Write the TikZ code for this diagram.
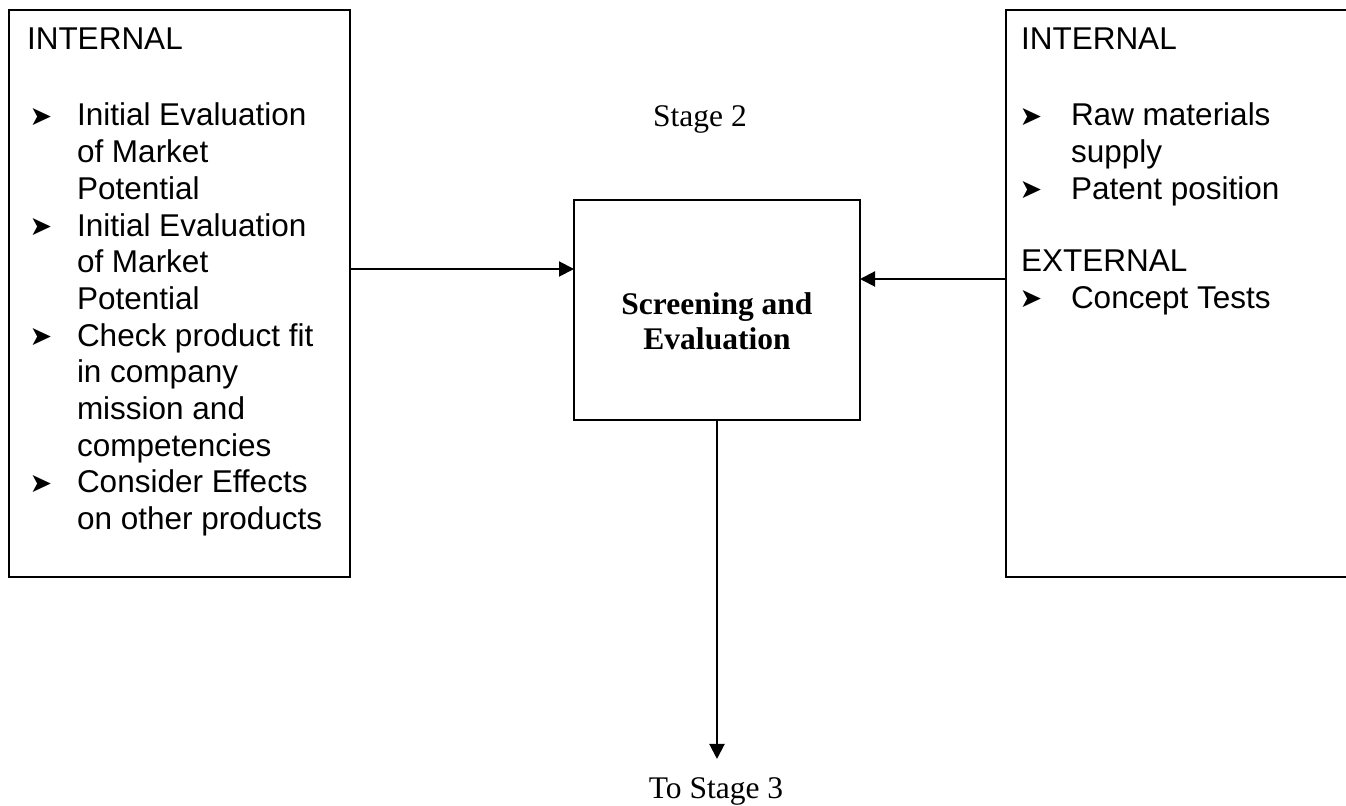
\documentclass[tikz,border=0pt]{standalone}
\usepackage{fontspec}
\setmainfont{Liberation Serif}
\newfontfamily\arialf{Liberation Sans}
\newfontfamily\dejavuf{DejaVu Sans}
\usetikzlibrary{arrows.meta}
\tikzset{
  every node/.style={inner sep=0pt, outer sep=0pt},
  ln/.style={anchor=base west, font=\arialf\fontsize{15.75}{18}\selectfont},
  bul/.style={anchor=center, font=\dejavuf\fontsize{13.5}{14}\selectfont},
  serif/.style={anchor=base, font=\fontsize{15.75}{18}\selectfont},
  box/.style={draw, line width=1pt, anchor=north west},
  arr/.style={line width=1pt, -{Triangle[length=7.5pt,width=7.5pt]}},
}
\begin{document}
\begin{tikzpicture}[x=0.5pt,y=-0.5pt]
\useasboundingbox (0,0) rectangle (1346,806);
\clip (0,0) rectangle (1346,806);
% boxes
\node[box, minimum width=170.5pt, minimum height=283.5pt] (lb) at (9,10) {};
\node[box, minimum width=177pt, minimum height=283.5pt] (rb) at (1006,10) {};
\node[box, minimum width=143pt, minimum height=110pt] (cb) at (574,200) {};
% left box text
\node[ln] (lt) at (27,50) {INTERNAL};
\node[bul] (lb1) at (41,117) {➤};
\node[ln] (l1) at (77,126) {Initial Evaluation};
\node[ln] (l2) at (77,162.7) {of Market};
\node[ln] (l3) at (77,199.4) {Potential};
\node[bul] (lb2) at (41,227.1) {➤};
\node[ln] (l4) at (77,236.1) {Initial Evaluation};
\node[ln] (l5) at (77,272.8) {of Market};
\node[ln] (l6) at (77,309.5) {Potential};
\node[bul] (lb3) at (41,337.2) {➤};
\node[ln] (l7) at (77,346.2) {Check product fit};
\node[ln] (l8) at (77,382.9) {in company};
\node[ln] (l9) at (77,419.6) {mission and};
\node[ln] (l10) at (77,456.3) {competencies};
\node[bul] (lb4) at (41,484) {➤};
\node[ln] (l11) at (77,493) {Consider Effects};
\node[ln] (l12) at (77,529.7) {on other products};
% right box text
\node[ln] (rt) at (1021,50) {INTERNAL};
\node[bul] (rb1) at (1031,117) {➤};
\node[ln] (r1) at (1071,126) {Raw materials};
\node[ln] (r2) at (1071,162.7) {supply};
\node[bul] (rb2) at (1031,190.4) {➤};
\node[ln] (r3) at (1071,199.4) {Patent position};
\node[ln] (rx) at (1021,272) {EXTERNAL};
\node[bul] (rb3) at (1031,299.5) {➤};
\node[ln] (r4) at (1071,308.5) {Concept Tests};
% centre texts
\node[serif] (st2) at (700,127) {Stage 2};
\node[serif, font=\bfseries\fontsize{15.75}{18}\selectfont] (c1) at (717,315) {Screening and};
\node[serif, font=\bfseries\fontsize{15.75}{18}\selectfont] (c2) at (717,350) {Evaluation};
\node[serif] (st3) at (716,799) {To Stage 3};
% connectors
\coordinate (tip) at (717,759);
\draw[arr] (lb.east |- 0,269) -- (cb.west |- 0,269);
\draw[arr] (rb.west |- 0,279) -- (cb.east |- 0,279);
\draw[arr] (cb.south) -- (tip);
\end{tikzpicture}
\end{document}
